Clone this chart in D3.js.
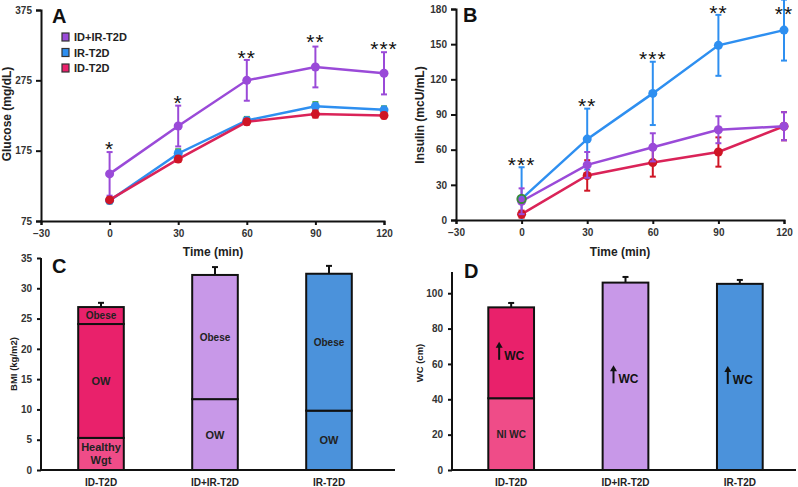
<!DOCTYPE html>
<html>
<head>
<meta charset="utf-8">
<script src="https://cdn.jsdelivr.net/npm/d3@7"></script>
<style>
  body { margin: 0; background: #fff; }
  svg { font-family: "Liberation Sans", Arial, sans-serif; display: block; }
  .tick text { font-size: 10px; font-weight: bold; fill: #333; }
</style>
</head>
<body>
<svg id="chart" width="798" height="487"></svg>
<script>
// ---- data ----
var timePoints = [0, 30, 60, 90, 120];
var timeTicks = [-30, 0, 30, 60, 90, 120];

var seriesNames = ["ID+IR-T2D", "IR-T2D", "ID-T2D"];
var lineColors = ["#9a4ad8", "#2e8ff0", "#da2358"];
var markerColors = ["#9a4ad8", "#2e8ff0", "#cf1525"];
var legendColors = ["#9a4ad8", "#2e8ff0", "#e9216b"];
var errColorsA = ["#9a4ad8", "#3aa040", "#cf1525"];

var glucoseIDIR = [142, 210, 275, 294, 285];
var glucoseIDIRErr = [31, 29, 29, 29, 30];
var glucoseIR = [104, 171, 218, 238, 233];
var glucoseIRErr = [4, 6, 5, 6, 5];
var glucoseID = [105, 163, 216, 227, 225];
var glucoseIDErr = [3, 4, 4, 5, 4];
var glucoseStars = ["*", "*", "**", "**", "***"];
var glucoseStarY = [183, 248, 312, 335, 325];

var insulinIDIR = [16, 47, 62, 77, 80];
var insulinIDIRErr = [11, 11, 12, 11.5, 12];
var insulinIR = [18, 69, 108, 149, 162];
var insulinIRErr = [27, 26, 27, 26, 26];
var insulinID = [5, 38, 49, 58, 80];
var insulinIDErr = [3, 13, 12, 12.5, 12];
var insulinStars = ["***", "**", "***", "**", "**"];
var insulinStarY = [50, 101, 141, 180, 179];

var groups = ["ID-T2D", "ID+IR-T2D", "IR-T2D"];
var bmiBreaks = [[0, 5.3, 24.1, 26.9], [0, 11.7, 32.2], [0, 9.8, 32.4]];
var bmiLabels = [["Healthy|Wgt", "OW", "Obese"], ["OW", "Obese"], ["OW", "Obese"]];
var bmiErr = [0.7, 1.3, 1.3];
var wcBreaks = [[0, 40.6, 92], [0, 106], [0, 105.3]];
var wcLabels = [["Nl WC", "^WC"], ["^WC"], ["^WC"]];
var wcErr = [2.5, 3.2, 2.2];
var segColors = [["#ef4c88", "#e9216b", "#e9216b"], ["#c898e8", "#c898e8"], ["#4b92db", "#4b92db"]];

var svg = d3.select("#chart");

function panelLetter(x, y, t) {
  svg.append("text").attr("x", x).attr("y", y).text(t)
    .attr("font-size", 20).attr("font-weight", "bold").attr("fill", "#111");
}

function styleAxis(g) {
  g.selectAll(".domain").attr("stroke", "#111").attr("stroke-width", 2);
  g.selectAll(".tick line").attr("stroke", "#111").attr("stroke-width", 2);
}

function axisTitle(x, y, t, size, rot) {
  svg.append("text").attr("transform", "translate(" + x + "," + y + ")" + (rot ? " rotate(-90)" : ""))
    .attr("text-anchor", "middle").attr("dominant-baseline", "central")
    .attr("font-size", size).attr("font-weight", "bold").attr("fill", "#222").text(t);
}

function linePanel(cfg) {
  var x = d3.scaleLinear().domain([-30, 120]).range(cfg.xr);
  var y = d3.scaleLinear().domain(cfg.yd).range(cfg.yr);
  var g = svg.append("g");
  var ya = g.append("g").attr("transform", "translate(" + cfg.xr[0] + ",0)")
    .call(d3.axisLeft(y).tickValues(cfg.yticks).tickSize(5).tickPadding(4));
  styleAxis(ya);
  var xa = g.append("g").attr("transform", "translate(0," + cfg.yr[0] + ")")
    .call(d3.axisBottom(x).tickValues(timeTicks).tickSize(4).tickPadding(5));
  styleAxis(xa);

  var line = d3.line().x(function(d) { return x(d[0]); }).y(function(d) { return y(d[1]); });
  cfg.order.forEach(function(i) {
    var s = cfg.series[i];
    var pts = timePoints.map(function(t, k) { return [t, s.v[k], s.e[k]]; });
    var eg = g.append("g").attr("stroke", s.errColor).attr("stroke-width", 2);
    pts.forEach(function(p) {
      var lo = Math.max(cfg.yd[0], p[1] - p[2]), hi = p[1] + p[2];
      eg.append("line").attr("x1", x(p[0])).attr("x2", x(p[0])).attr("y1", y(lo)).attr("y2", y(hi));
      eg.append("line").attr("x1", x(p[0]) - 3).attr("x2", x(p[0]) + 3).attr("y1", y(hi)).attr("y2", y(hi));
      if (lo > cfg.yd[0]) eg.append("line").attr("x1", x(p[0]) - 3).attr("x2", x(p[0]) + 3).attr("y1", y(lo)).attr("y2", y(lo));
    });
    g.append("path").datum(pts).attr("d", line).attr("fill", "none")
      .attr("stroke", s.color).attr("stroke-width", 2.5);
    g.selectAll(null).data(pts).enter().append("circle")
      .attr("cx", function(d) { return x(d[0]); }).attr("cy", function(d) { return y(d[1]); })
      .attr("r", 4.5).attr("fill", s.marker);
  });
  if (cfg.highlight) {
    var h = cfg.highlight;
    g.append("circle").attr("cx", x(h[0])).attr("cy", y(h[1])).attr("r", 4.2)
      .attr("fill", "none").attr("stroke", "#3d8a3a").attr("stroke-width", 2);
  }
  g.selectAll(null).data(cfg.stars).enter().append("text")
    .attr("x", function(d, i) { return x(timePoints[i]); })
    .attr("y", function(d, i) { return y(cfg.starY[i]) + 11; })
    .attr("text-anchor", "middle").attr("font-size", 21).attr("fill", "#111")
    .attr("letter-spacing", 1).text(function(d) { return d; });
}

// Panel A
linePanel({
  xr: [41, 384], yd: [75, 375], yr: [221, 10], yticks: [75, 175, 275, 375],
  series: [
    { v: glucoseIDIR, e: glucoseIDIRErr, color: lineColors[0], marker: markerColors[0], errColor: errColorsA[0] },
    { v: glucoseIR, e: glucoseIRErr, color: lineColors[1], marker: markerColors[1], errColor: errColorsA[1] },
    { v: glucoseID, e: glucoseIDErr, color: lineColors[2], marker: markerColors[2], errColor: errColorsA[2] }
  ],
  order: [0, 1, 2], stars: glucoseStars, starY: glucoseStarY
});
// Panel B
linePanel({
  xr: [456, 784], yd: [0, 180], yr: [220, 9], yticks: [0, 30, 60, 90, 120, 150, 180],
  series: [
    { v: insulinIDIR, e: insulinIDIRErr, color: lineColors[0], marker: markerColors[0], errColor: lineColors[0] },
    { v: insulinIR, e: insulinIRErr, color: lineColors[1], marker: markerColors[1], errColor: lineColors[1] },
    { v: insulinID, e: insulinIDErr, color: lineColors[2], marker: markerColors[2], errColor: markerColors[2] }
  ],
  order: [1, 2, 0], stars: insulinStars, starY: insulinStarY,
  highlight: [timePoints[0], insulinIR[0]]
});

panelLetter(52, 23, "A");
panelLetter(463, 22, "B");
axisTitle(7, 114, "Glucose (mg/dL)", 12, true);
axisTitle(420, 115, "Insulin (mcU/mL)", 12, true);
axisTitle(213, 252, "Time (min)", 12, false);
axisTitle(620, 252, "Time (min)", 12, false);

// legend
var lg = svg.append("g").attr("transform", "translate(62,37)");
seriesNames.forEach(function(n, i) {
  lg.append("rect").attr("x", 0).attr("y", i * 15.5 - 4).attr("width", 7).attr("height", 8)
    .attr("fill", legendColors[i]).attr("stroke", "#333").attr("stroke-width", 1.2);
  lg.append("text").attr("x", 12).attr("y", i * 15.5).attr("dominant-baseline", "central")
    .attr("font-size", 11).attr("font-weight", "bold").attr("fill", "#222").text(n);
});

// bar panels
function barPanel(cfg) {
  var x = d3.scaleBand().domain(groups).range(cfg.xr).paddingInner(0.6).paddingOuter(0.3);
  var y = d3.scaleLinear().domain(cfg.yd).range(cfg.yr);
  var g = svg.append("g");
  groups.forEach(function(gr, i) {
    var br = cfg.breaks[i], x0 = x(gr), w = x.bandwidth(), cx = x0 + w / 2;
    var top = br[br.length - 1];
    // error bar
    g.append("line").attr("x1", cx).attr("x2", cx).attr("y1", y(top)).attr("y2", y(top + cfg.err[i]))
      .attr("stroke", "#111").attr("stroke-width", 2);
    g.append("line").attr("x1", cx - 3).attr("x2", cx + 3).attr("y1", y(top + cfg.err[i])).attr("y2", y(top + cfg.err[i]))
      .attr("stroke", "#111").attr("stroke-width", 2);
    for (var k = 0; k < br.length - 1; k++) {
      g.append("rect").attr("x", x0).attr("width", w).attr("y", y(br[k + 1])).attr("height", y(br[k]) - y(br[k + 1]))
        .attr("fill", segColors[i][k]).attr("stroke", "#111").attr("stroke-width", 2);
      var lab = cfg.labels[i][k], my = y((br[k] + br[k + 1]) / 2);
      if (lab.charAt(0) === "^") {
        g.append("path").attr("d", "M" + (cx - 12) + "," + (my + 7) + "V" + (my - 7))
          .attr("stroke", "#111").attr("stroke-width", 2);
        g.append("path").attr("d", "M" + (cx - 15.5) + "," + (my - 5) + "L" + (cx - 12) + "," + (my - 11) + "L" + (cx - 8.5) + "," + (my - 5) + "Z")
          .attr("fill", "#111");
        g.append("text").attr("x", cx - 7).attr("y", my + 7).attr("font-size", 12).attr("font-weight", "bold")
          .attr("fill", "#111").text(lab.slice(1));
      } else {
        var lines = lab.split("|");
        lines.forEach(function(t, j) {
          g.append("text").attr("x", cx).attr("y", my + (j - (lines.length - 1) / 2) * 13)
            .attr("text-anchor", "middle").attr("dominant-baseline", "central")
            .attr("font-size", cfg.labelSize(t)).attr("font-weight", "bold").attr("fill", "#222").text(t);
        });
      }
    }
  });
  var ya = g.append("g").attr("transform", "translate(" + cfg.axX + ",0)")
    .call(d3.axisLeft(y).tickValues(cfg.yticks).tickSize(4).tickPadding(5));
  styleAxis(ya);
  ya.select(".domain").attr("d", "M0," + cfg.yr[0] + "V" + cfg.yr[1]);
  g.append("line").attr("x1", cfg.axX).attr("x2", cfg.axEnd).attr("y1", cfg.yr[0]).attr("y2", cfg.yr[0])
    .attr("stroke", "#111").attr("stroke-width", 2);
  g.selectAll(null).data(groups).enter().append("text")
    .attr("x", function(d) { return x(d) + x.bandwidth() / 2; }).attr("y", cfg.yr[0] + 16)
    .attr("text-anchor", "middle").attr("font-size", 10).attr("font-weight", "bold").attr("fill", "#222")
    .text(function(d) { return d; });
}

barPanel({
  xr: [44, 386], axX: 41, axEnd: 395, yd: [0, 35], yr: [470, 258],
  yticks: [0, 5, 10, 15, 20, 25, 30, 35], breaks: bmiBreaks, labels: bmiLabels, err: bmiErr,
  labelSize: function(t) { return t === "Obese" ? 10 : 11; }
});
barPanel({
  xr: [454, 797], axX: 452, axEnd: 796, yd: [0, 112], yr: [470, 272],
  yticks: [0, 20, 40, 60, 80, 100], breaks: wcBreaks, labels: wcLabels, err: wcErr,
  labelSize: function() { return 10; }
});

panelLetter(52, 273, "C");
panelLetter(464, 278, "D");
axisTitle(13, 364, "BMI (kg/m2)", 9.5, true);
axisTitle(419, 363, "WC (cm)", 9.5, true);
</script>
</body>
</html>
